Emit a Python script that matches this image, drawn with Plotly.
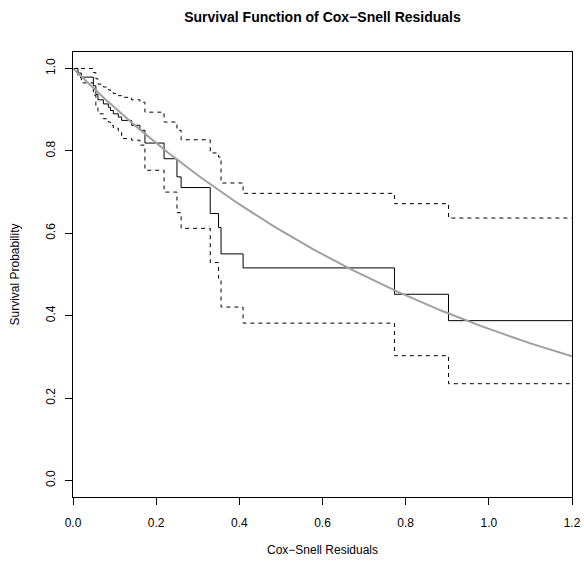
import numpy as np
import plotly.graph_objects as go

# Kaplan-Meier estimate of the Cox-Snell residuals with pointwise 95% bands
event_times = [0.0, 0.012, 0.020, 0.049, 0.055, 0.060, 0.073, 0.085, 0.090, 0.097,
               0.109, 0.117, 0.141, 0.161, 0.173, 0.219, 0.250, 0.260, 0.330, 0.350,
               0.356, 0.409, 0.773, 0.903]
km_surv = [1.0, 0.989, 0.979, 0.958, 0.937, 0.924, 0.914, 0.906, 0.898, 0.890,
           0.882, 0.874, 0.862, 0.850, 0.819, 0.781, 0.737, 0.711, 0.648, 0.614,
           0.550, 0.516, 0.452, 0.388]
ci_upper = [1.0, 1.0, 1.0, 0.990, 0.975, 0.962, 0.955, 0.948, 0.944, 0.939,
            0.934, 0.930, 0.924, 0.918, 0.894, 0.870, 0.850, 0.827, 0.795, 0.785,
            0.722, 0.697, 0.672, 0.637]
ci_lower = [1.0, 0.978, 0.965, 0.935, 0.910, 0.890, 0.878, 0.870, 0.862, 0.855,
            0.845, 0.830, 0.826, 0.814, 0.753, 0.700, 0.650, 0.612, 0.529, 0.491,
            0.421, 0.382, 0.303, 0.235]
x_end = 1.2

x_ticks = [0.0, 0.2, 0.4, 0.6, 0.8, 1.0, 1.2]
y_ticks = [0.0, 0.2, 0.4, 0.6, 0.8, 1.0]


def with_end(values):
    return list(event_times) + [x_end], list(values) + [values[-1]]


fig = go.Figure()

xs, ys = with_end(km_surv)
fig.add_trace(go.Scatter(x=xs, y=ys, mode="lines", line=dict(shape="hv", color="black", width=1)))
for band in (ci_upper, ci_lower):
    xs, ys = with_end(band)
    fig.add_trace(go.Scatter(x=xs, y=ys, mode="lines",
                             line=dict(shape="hv", color="black", width=1, dash="4px,4px")))

# Unit exponential survival function S(r) = exp(-r) as the reference curve
r = np.linspace(0, x_end, 241)
fig.add_trace(go.Scatter(x=r, y=np.exp(-r), mode="lines", line=dict(color="#a0a0a0", width=2)))

font = "Liberation Sans, Arial, Helvetica, sans-serif"
axis_common = dict(
    showgrid=False, zeroline=False, showline=True, mirror=True, automargin=False,
    linecolor="black", linewidth=1, ticks="outside", ticklen=7, tickwidth=1,
    tickcolor="black", tickfont=dict(size=12, color="black", family=font),
)

fig.update_layout(
    width=584, height=565,
    margin=dict(l=73, r=12, t=52, b=68),
    paper_bgcolor="white", plot_bgcolor="white",
    showlegend=False,
    font=dict(family=font, color="black"),
    title=dict(text="<b>Survival Function of Cox\u2212Snell Residuals</b>",
               x=322.5 / 584, xanchor="center",
               y=1 - 17 / 565, yanchor="middle", font=dict(size=14, color="black")),
    xaxis=dict(range=[0, x_end], tickvals=x_ticks,
               ticktext=[f"{v:.1f}" for v in x_ticks], ticklabelstandoff=8,
               title=dict(text="Cox\u2212Snell Residuals", standoff=16,
                          font=dict(size=12, color="black")),
               **axis_common),
    yaxis=dict(range=[-0.04, 1.04], tickvals=y_ticks,
               ticktext=[f"{v:.1f}" for v in y_ticks], tickangle=-90,
               ticklabelstandoff=5,
               title=dict(text="Survival Probability", standoff=22,
                          font=dict(size=12, color="black")),
               **axis_common),
)

fig.write_html("out.html")
